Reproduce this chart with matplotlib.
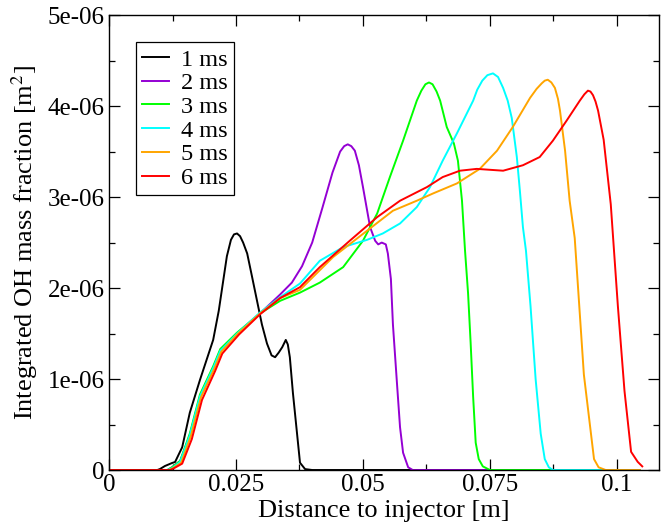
import matplotlib
matplotlib.use("Agg")
import matplotlib.pyplot as plt
from matplotlib.ticker import MultipleLocator, FixedLocator, FixedFormatter

plt.rcParams['font.family'] = ['Liberation Serif', 'DejaVu Serif']
plt.rcParams['mathtext.fontset'] = 'stix'

# -----------------------------
# Data (x in m, y in 1e-6 m^2)
# -----------------------------
x_1ms = [0.0, 0.0095, 0.0100, 0.0110, 0.0124, 0.0130, 0.0144, 0.0159, 0.0179, 0.0205, 0.0216,
         0.0224, 0.0232, 0.0240, 0.0246, 0.0252, 0.0258, 0.0264, 0.0272, 0.0281, 0.0291, 0.0301,
         0.0311, 0.0320, 0.0327, 0.0334, 0.0341, 0.0348, 0.0352, 0.0356, 0.0362, 0.0370, 0.0376,
         0.0386, 0.0400, 0.1045]
y_1ms = [0.0, 0.0, 0.01, 0.044, 0.077, 0.088, 0.25, 0.63, 0.99, 1.43, 1.75,
         2.05, 2.35, 2.53, 2.59, 2.60, 2.57, 2.50, 2.38, 2.14, 1.87, 1.60,
         1.39, 1.26, 1.24, 1.29, 1.35, 1.43, 1.38, 1.24, 0.85, 0.41, 0.08,
         0.01, 0.0, 0.0]

x_2ms = [0.0, 0.0115, 0.0124, 0.0140, 0.0159, 0.0179, 0.0205, 0.0219, 0.0252, 0.0297, 0.0337,
         0.0360, 0.0380, 0.0400, 0.0420, 0.0440, 0.0455, 0.0463, 0.0470, 0.0477, 0.0484, 0.0492,
         0.0500, 0.0514, 0.0524, 0.0530, 0.0537, 0.0545, 0.0549, 0.0555, 0.0559, 0.0567, 0.0573,
         0.0579, 0.0589, 0.0598, 0.1045]
y_2ms = [0.0, 0.0, 0.03, 0.10, 0.38, 0.80, 1.12, 1.31, 1.50, 1.72, 1.93,
         2.06, 2.24, 2.50, 2.88, 3.27, 3.50, 3.56, 3.58, 3.56, 3.51, 3.35,
         3.11, 2.67, 2.52, 2.48, 2.50, 2.48, 2.38, 2.10, 1.60, 0.95, 0.47,
         0.19, 0.03, 0.0, 0.0]

x_3ms = [0.0, 0.0115, 0.0124, 0.0140, 0.0159, 0.0179, 0.0205, 0.0219, 0.0252, 0.0297, 0.0337,
         0.0376, 0.0415, 0.0461, 0.0500, 0.0528, 0.0553, 0.0579, 0.0606, 0.0615, 0.0623, 0.0630,
         0.0637, 0.0645, 0.0652, 0.0665, 0.0679, 0.0687, 0.0695, 0.0701, 0.0707, 0.0712, 0.0717,
         0.0722, 0.0728, 0.0736, 0.0750, 0.1045]
y_3ms = [0.0, 0.0, 0.03, 0.10, 0.40, 0.83, 1.14, 1.33, 1.51, 1.72, 1.86,
         1.95, 2.06, 2.23, 2.52, 2.82, 3.22, 3.62, 4.06, 4.17, 4.24, 4.26,
         4.24, 4.16, 4.06, 3.77, 3.59, 3.40, 2.96, 2.41, 1.94, 1.40, 0.80,
         0.30, 0.12, 0.04, 0.0, 0.0]

x_4ms = [0.0, 0.0115, 0.0124, 0.0140, 0.0159, 0.0179, 0.0205, 0.0219, 0.0252, 0.0297, 0.0337,
         0.0376, 0.0415, 0.0461, 0.0508, 0.0539, 0.0573, 0.0606, 0.0632, 0.0657, 0.0685, 0.0717,
         0.0725, 0.0735, 0.0745, 0.0756, 0.0766, 0.0776, 0.0785, 0.0793, 0.0803, 0.0809, 0.0815,
         0.0821, 0.0830, 0.0840, 0.0850, 0.0858, 0.0866, 0.0874, 0.1045]
y_4ms = [0.0, 0.0, 0.02, 0.09, 0.38, 0.81, 1.12, 1.31, 1.50, 1.73, 1.90,
         2.05, 2.30, 2.45, 2.53, 2.60, 2.71, 2.89, 3.11, 3.40, 3.70, 4.06,
         4.18, 4.28, 4.34, 4.36, 4.32, 4.20, 4.06, 3.87, 3.44, 3.07, 2.67,
         2.41, 1.80, 1.00, 0.40, 0.12, 0.03, 0.0, 0.0]

x_5ms = [0.0, 0.0118, 0.0126, 0.0142, 0.0161, 0.0181, 0.0207, 0.0221, 0.0254, 0.0297, 0.0337,
         0.0376, 0.0441, 0.0508, 0.0559, 0.0606, 0.0638, 0.0685, 0.0730, 0.0764, 0.0795, 0.0829,
         0.0842, 0.0852, 0.0858, 0.0864, 0.0871, 0.0878, 0.0884, 0.0888, 0.0898, 0.0907, 0.0917,
         0.0935, 0.0955, 0.0964, 0.0978, 0.1045]
y_5ms = [0.0, 0.0, 0.02, 0.08, 0.37, 0.80, 1.11, 1.30, 1.50, 1.72, 1.89,
         1.98, 2.34, 2.63, 2.85, 2.96, 3.04, 3.15, 3.31, 3.51, 3.77, 4.09,
         4.19, 4.25, 4.28, 4.29, 4.26, 4.20, 4.08, 3.95, 3.51, 2.96, 2.55,
         1.05, 0.12, 0.03, 0.0, 0.0]

x_6ms = [0.0, 0.0120, 0.0128, 0.0144, 0.0163, 0.0183, 0.0209, 0.0223, 0.0256, 0.0297, 0.0337,
         0.0376, 0.0415, 0.0474, 0.0528, 0.0573, 0.0626, 0.0657, 0.0691, 0.0724, 0.0750, 0.0776,
         0.0815, 0.0848, 0.0874, 0.0901, 0.0927, 0.0936, 0.0943, 0.0948, 0.0953, 0.0958, 0.0963,
         0.0974, 0.0988, 0.1002, 0.1015, 0.1028, 0.1041, 0.1050]
y_6ms = [0.0, 0.0, 0.02, 0.07, 0.34, 0.77, 1.09, 1.28, 1.49, 1.71, 1.89,
         2.01, 2.23, 2.52, 2.78, 2.96, 3.11, 3.22, 3.29, 3.31, 3.30, 3.29,
         3.35, 3.44, 3.62, 3.84, 4.06, 4.13, 4.17, 4.16, 4.12, 4.05, 3.95,
         3.63, 2.92, 1.80, 0.87, 0.20, 0.09, 0.04]

series = [
    ("1 ms", x_1ms, y_1ms, "#000000"),
    ("2 ms", x_2ms, y_2ms, "#9400d3"),
    ("3 ms", x_3ms, y_3ms, "#00ff00"),
    ("4 ms", x_4ms, y_4ms, "#00ffff"),
    ("5 ms", x_5ms, y_5ms, "#ffa500"),
    ("6 ms", x_6ms, y_6ms, "#ff0000"),
]

x_ticks = [0, 0.025, 0.05, 0.075, 0.1]
x_tick_labels = ["0", "0.025", "0.05", "0.075", "0.1"]
y_ticks = [0, 1e-6, 2e-6, 3e-6, 4e-6, 5e-6]
y_tick_labels = ["0", "1e-06", "2e-06", "3e-06", "4e-06", "5e-06"]

# -----------------------------
# Plot
# -----------------------------
fig = plt.figure(figsize=(6.61, 5.22), dpi=100)
ax = fig.add_axes([0.165, 0.0996, 0.832, 0.8714])

for label, xs, ys, color in series:
    ax.plot(xs, [v * 1e-6 for v in ys], color=color, lw=1.4, label=label,
            solid_joinstyle='round')

ax.set_xlim(0, 0.1083)
ax.set_ylim(0, 5e-6)

ax.xaxis.set_major_locator(FixedLocator(x_ticks))
ax.xaxis.set_major_formatter(FixedFormatter(x_tick_labels))
ax.xaxis.set_minor_locator(MultipleLocator(0.0125))
ax.yaxis.set_major_locator(FixedLocator(y_ticks))
ax.yaxis.set_major_formatter(FixedFormatter(y_tick_labels))
ax.yaxis.set_minor_locator(MultipleLocator(0.5e-6))

ax.tick_params(which='both', direction='in', top=True, right=True, labelsize=18, width=0.9)
ax.tick_params(which='major', length=8, pad=3)
ax.tick_params(which='minor', length=4.5)
for sp in ax.spines.values():
    sp.set_linewidth(1.0)

ax.set_xlabel("Distance to injector [m]", fontsize=19, labelpad=2.5)
ax.set_ylabel("Integrated OH mass fraction [m$^2$]", fontsize=19, labelpad=6)

leg = ax.legend(loc='upper left', bbox_to_anchor=(0.049, 0.94), fontsize=17.5,
                handlelength=1.1, handletextpad=0.5, labelspacing=0.07,
                borderpad=0.25, borderaxespad=0, fancybox=False, framealpha=1,
                edgecolor='black')
leg.get_frame().set_linewidth(0.9)

fig.savefig("out.png", dpi=100)
